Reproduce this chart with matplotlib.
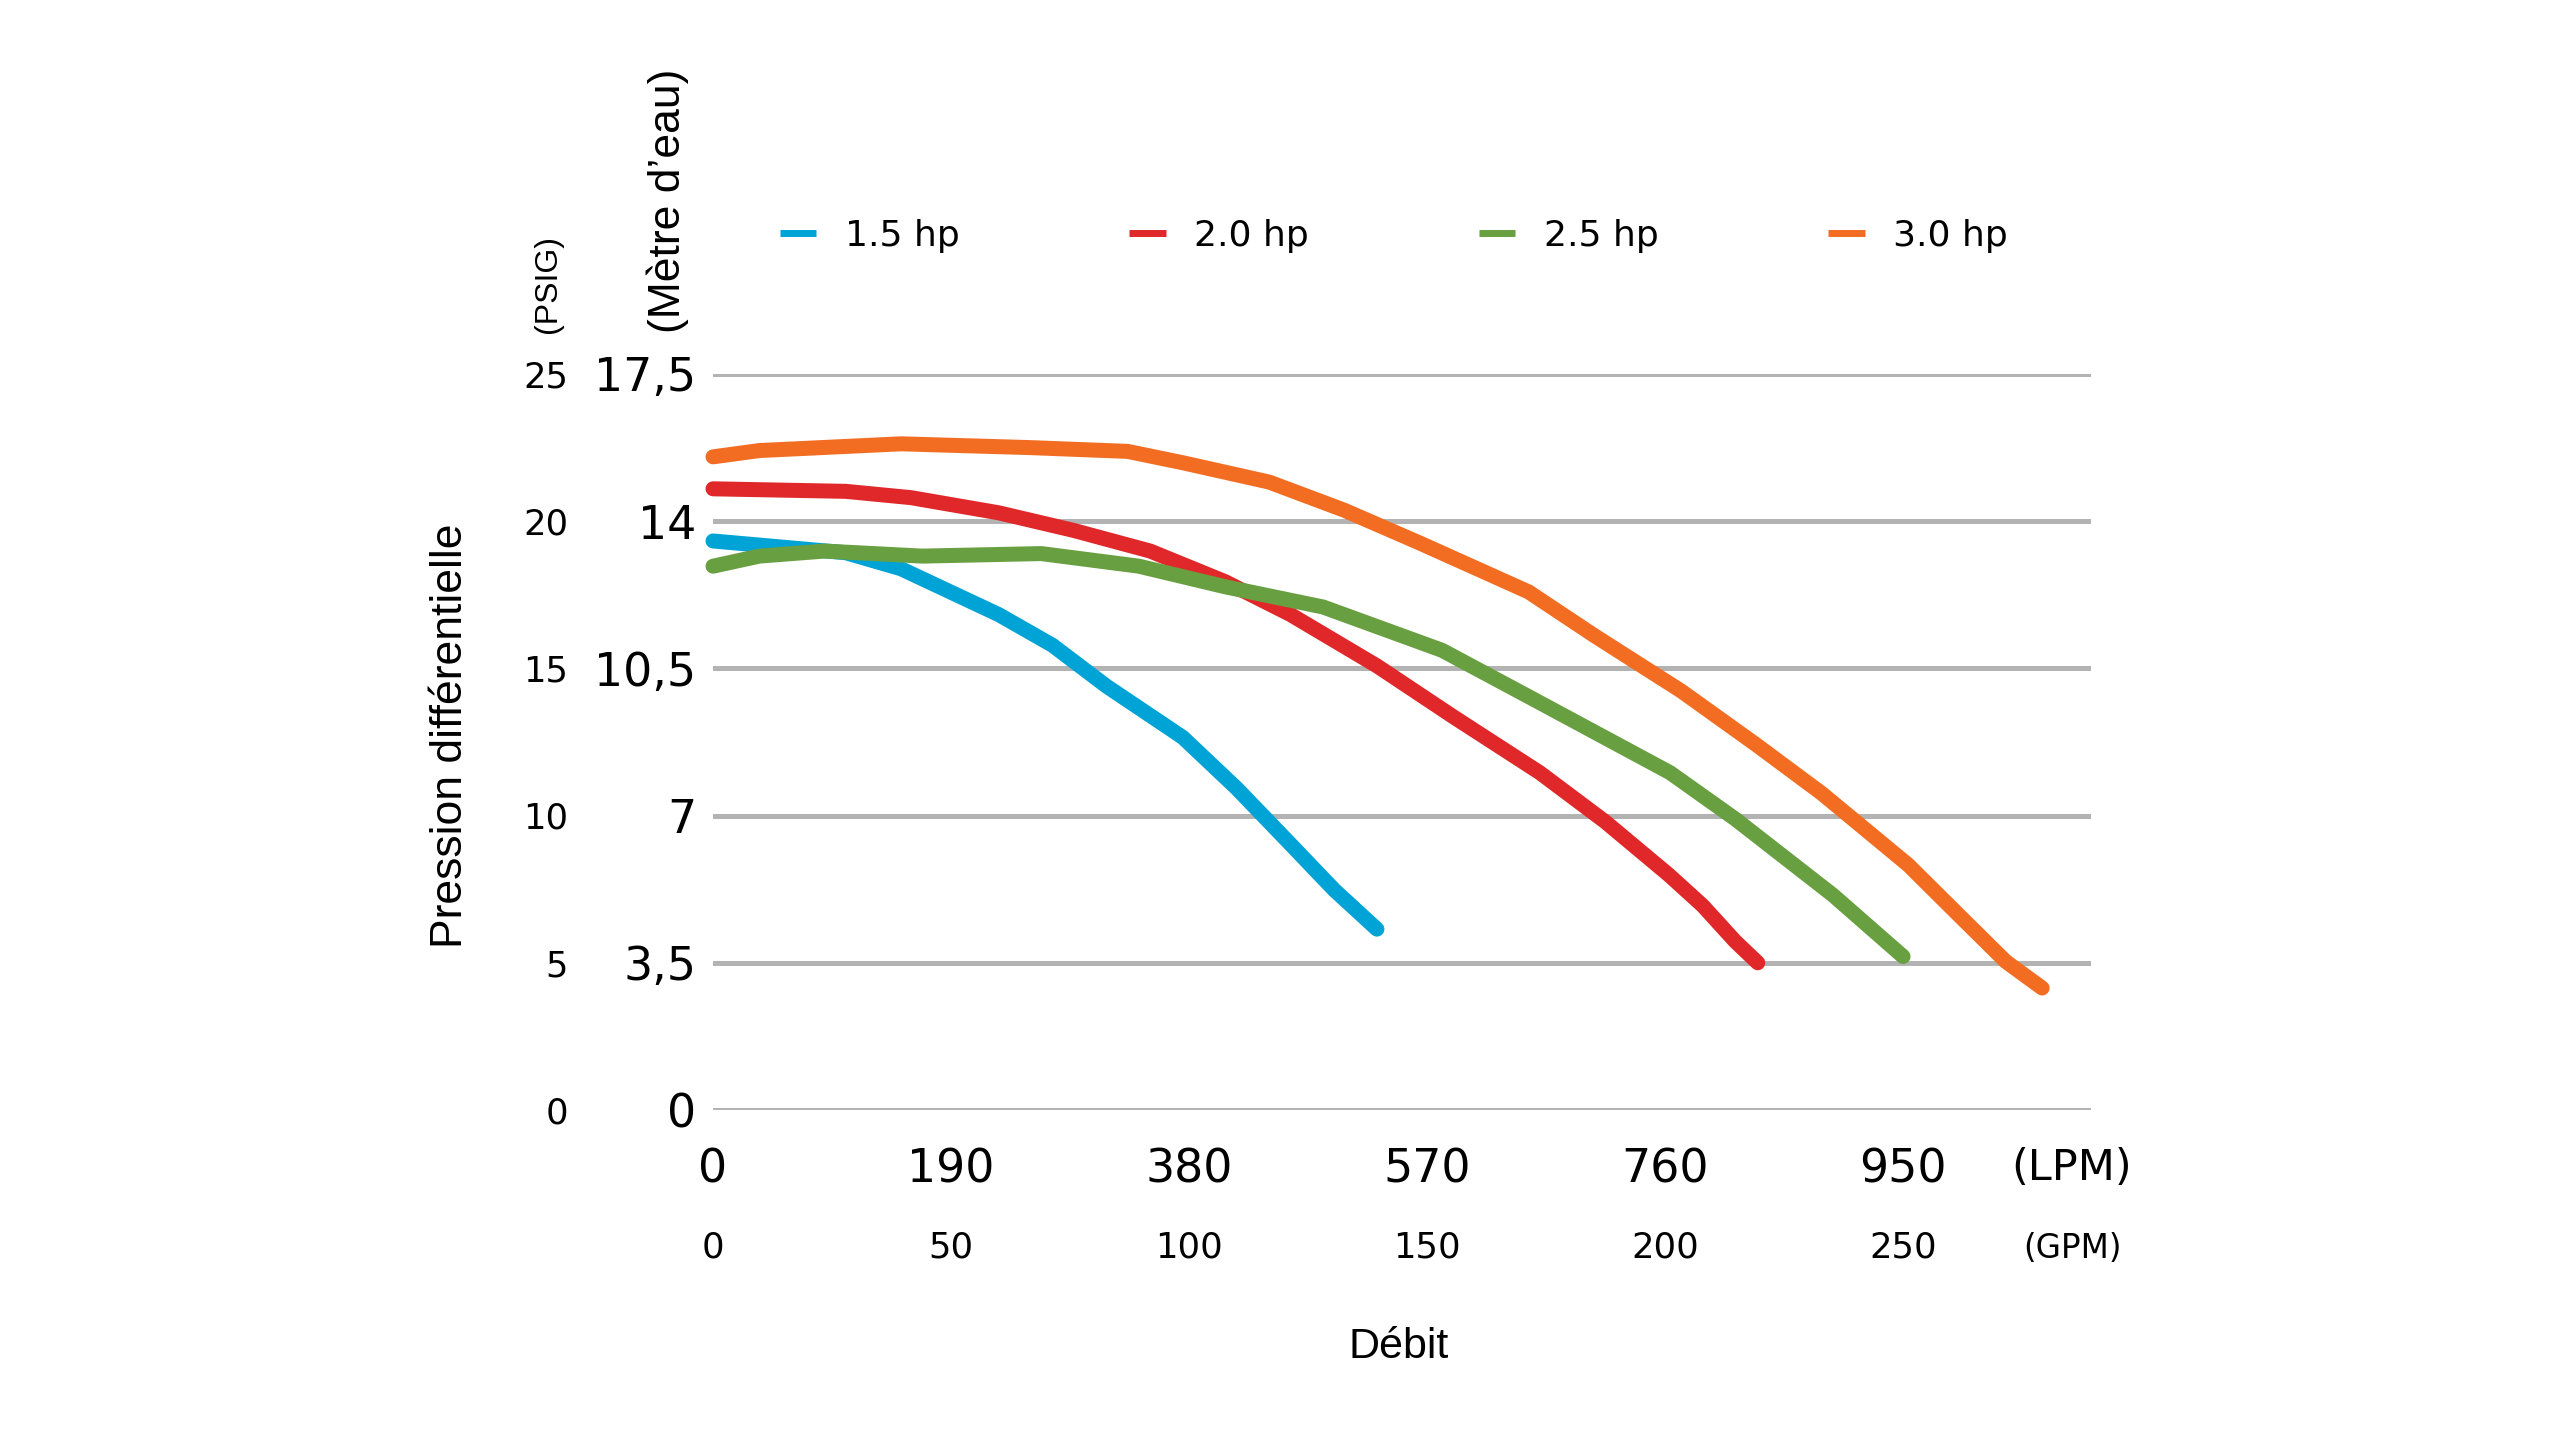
import numpy as np
import matplotlib
matplotlib.use("Agg")
import matplotlib.pyplot as plt
from matplotlib.transforms import blended_transform_factory

# flow in LPM, head in metres of water
lpm_15 = [0, 106, 150, 228, 271, 314, 375, 418, 461, 496, 530]
m_15 = [13.53, 13.25, 12.87, 11.78, 11.05, 10.08, 8.86, 7.65, 6.32, 5.23, 4.3]

lpm_20 = [0, 106, 158, 228, 288, 349, 409, 461, 530, 591, 660, 712, 763, 790, 816, 834]
m_20 = [14.77, 14.71, 14.56, 14.2, 13.78, 13.29, 12.56, 11.78, 10.56, 9.35, 8.02, 6.86, 5.59, 4.86, 4.01, 3.5]

lpm_25 = [0, 37, 89, 167, 262, 340, 409, 487, 582, 651, 764, 816, 894, 950]
m_25 = [12.93, 13.17, 13.29, 13.17, 13.23, 12.93, 12.44, 11.96, 10.93, 9.83, 8.02, 6.92, 5.11, 3.65]

lpm_30 = [0, 37, 150, 253, 331, 375, 444, 504, 565, 651, 703, 773, 833, 885, 954, 997, 1032, 1061]
m_30 = [15.53, 15.68, 15.84, 15.75, 15.66, 15.39, 14.93, 14.26, 13.47, 12.32, 11.29, 9.96, 8.68, 7.53, 5.83, 4.56, 3.53, 2.9]

labels = ["1.5 hp", "2.0 hp", "2.5 hp", "3.0 hp"]
colors = ["#00a3d6", "#e0282a", "#689f40", "#f26d22"]

y_ticks_m = [0, 3.5, 7, 10.5, 14, 17.5]
y_labels_m = ["0", "3,5", "7", "10,5", "14", "17,5"]
y_labels_psi = ["0", "5", "10", "15", "20", "25"]
x_ticks_lpm = [0, 190, 380, 570, 760, 950]
x_labels_gpm = ["0", "50", "100", "150", "200", "250"]

fig = plt.figure(figsize=(25.6, 14.4), dpi=100)
ax = fig.add_axes([713 / 2560, 1 - 1110 / 1440, 1378 / 2560, 736 / 1440])

series = [(lpm_15, m_15), (lpm_20, m_20), (lpm_25, m_25), (lpm_30, m_30)]
for (x, y), c, lab in zip(series, colors, labels):
    ax.plot(x, y, color=c, lw=10.8, solid_capstyle="round", solid_joinstyle="round",
            label=lab, zorder=3, clip_on=False)

for yt in y_ticks_m:
    ax.axhline(yt, color="#b3b3b3", lw=3.6, zorder=1)

ax.set_xlim(0, 1100)
ax.set_ylim(0, 17.5)
for s in ax.spines.values():
    s.set_visible(False)

ax.set_yticks(y_ticks_m)
ax.set_yticklabels(y_labels_m, fontsize=33, family="DejaVu Sans")
ax.tick_params(axis="y", length=0, pad=12)
ax.set_xticks(x_ticks_lpm)
ax.set_xticklabels([str(v) for v in x_ticks_lpm], fontsize=33, family="DejaVu Sans")
ax.tick_params(axis="x", length=0, pad=27)

tr = blended_transform_factory(ax.transAxes, ax.transData)
for yt, lab in zip(y_ticks_m, y_labels_psi):
    ax.text(-0.105, yt - 0.08, lab, transform=tr, ha="right", va="center", fontsize=25.5)

tr2 = blended_transform_factory(ax.transData, fig.transFigure)
for xt, lab in zip(x_ticks_lpm, x_labels_gpm):
    ax.text(xt, 1 - 1248 / 1440, lab, transform=tr2, ha="center", va="center", fontsize=25.5)

fig.text(2072 / 2560, 1 - 1168 / 1440, "(LPM)", ha="center", va="center", fontsize=31)
fig.text(2072 / 2560, 1 - 1248 / 1440, "(GPM)", ha="center", va="center", fontsize=23.5)

fig.text(548 / 2560, 1 - 284 / 1440, "(PSIG)", rotation=90, ha="center", va="center",
         fontsize=23, family="Liberation Sans")
fig.text(668 / 2560, 1 - 201 / 1440, "(Mètre d’eau)", rotation=90, ha="center", va="center",
         fontsize=32, family="Liberation Sans")
fig.text(451 / 2560, 1 - 736 / 1440, "Pression différentielle", rotation=90, ha="center",
         va="center", fontsize=32, family="Liberation Sans")
fig.text(1399 / 2560, 1 - 1347 / 1440, "Débit", ha="center", va="center", fontsize=31,
         family="Liberation Sans")

leg = ax.legend(loc="center left", bbox_to_anchor=(780 / 2560, 1 - 236 / 1440),
                bbox_transform=fig.transFigure, ncol=4, frameon=False, fontsize=26,
                handlelength=1.0, handletextpad=0.8, columnspacing=4.7,
                borderpad=0, borderaxespad=0)
for h in leg.get_lines():
    h.set_linewidth(5)
    h.set_solid_capstyle("butt")

fig.savefig("out.png", dpi=100)
